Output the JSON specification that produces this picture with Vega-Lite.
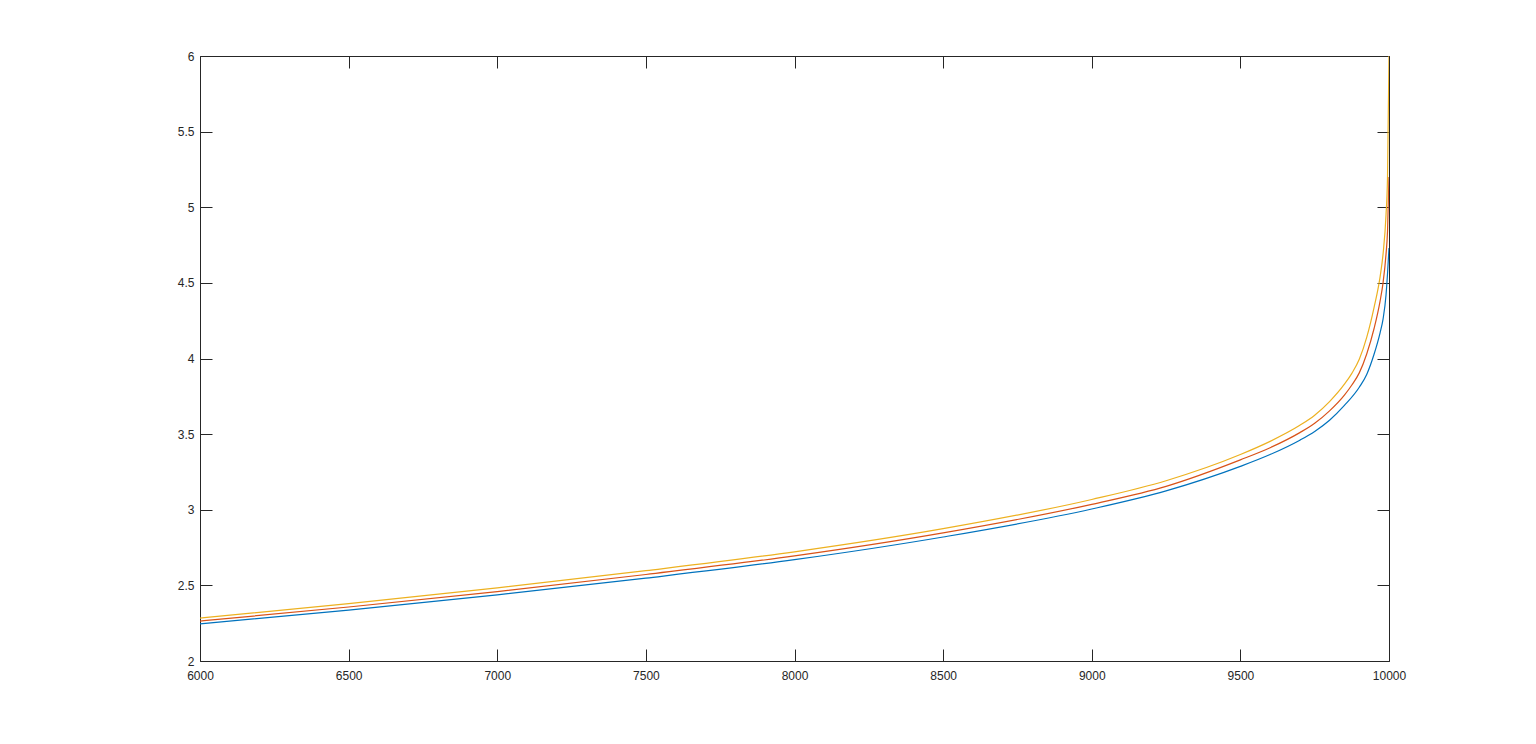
{
  "$schema": "https://vega.github.io/schema/vega-lite/v6.json",
  "autosize": {"type": "none"},
  "padding": {"left": 200, "top": 56, "right": 147, "bottom": 83},
  "width": 1189,
  "height": 605,
  "background": "white",
  "config": {
    "view": {"stroke": "#262626", "strokeWidth": 1},
    "axis": {
      "grid": false,
      "domain": false,
      "tickColor": "#262626",
      "tickWidth": 1,
      "tickSize": -12,
      "labelColor": "#262626",
      "labelFont": "Liberation Sans",
      "labelFontSize": 12,
      "labelFlush": false,
      "title": null
    }
  },
  "data": {
    "values": [
      {"x": 6000, "s": "a", "y": 2.245}, {"x": 6500, "s": "a", "y": 2.337}, {"x": 7000, "s": "a", "y": 2.437},
      {"x": 7500, "s": "a", "y": 2.548}, {"x": 8000, "s": "a", "y": 2.670}, {"x": 8500, "s": "a", "y": 2.820},
      {"x": 9000, "s": "a", "y": 3.005}, {"x": 9250, "s": "a", "y": 3.125}, {"x": 9500, "s": "a", "y": 3.287},
      {"x": 9600, "s": "a", "y": 3.365}, {"x": 9700, "s": "a", "y": 3.460}, {"x": 9750, "s": "a", "y": 3.518},
      {"x": 9800, "s": "a", "y": 3.592}, {"x": 9850, "s": "a", "y": 3.690}, {"x": 9900, "s": "a", "y": 3.810},
      {"x": 9925, "s": "a", "y": 3.895}, {"x": 9950, "s": "a", "y": 4.030}, {"x": 9970, "s": "a", "y": 4.170},
      {"x": 9980, "s": "a", "y": 4.260}, {"x": 9990, "s": "a", "y": 4.420}, {"x": 9995, "s": "a", "y": 4.560},
      {"x": 10000, "s": "a", "y": 4.730},

      {"x": 6000, "s": "b", "y": 2.264}, {"x": 6500, "s": "b", "y": 2.357}, {"x": 7000, "s": "b", "y": 2.459},
      {"x": 7500, "s": "b", "y": 2.572}, {"x": 8000, "s": "b", "y": 2.695}, {"x": 8500, "s": "b", "y": 2.847},
      {"x": 9000, "s": "b", "y": 3.036}, {"x": 9250, "s": "b", "y": 3.155}, {"x": 9500, "s": "b", "y": 3.330},
      {"x": 9600, "s": "b", "y": 3.410}, {"x": 9700, "s": "b", "y": 3.510}, {"x": 9750, "s": "b", "y": 3.572},
      {"x": 9800, "s": "b", "y": 3.654}, {"x": 9850, "s": "b", "y": 3.758}, {"x": 9875, "s": "b", "y": 3.825},
      {"x": 9900, "s": "b", "y": 3.905}, {"x": 9925, "s": "b", "y": 4.030}, {"x": 9950, "s": "b", "y": 4.200},
      {"x": 9970, "s": "b", "y": 4.380}, {"x": 9980, "s": "b", "y": 4.500}, {"x": 9990, "s": "b", "y": 4.690},
      {"x": 9995, "s": "b", "y": 4.840}, {"x": 10000, "s": "b", "y": 5.200},

      {"x": 6000, "s": "c", "y": 2.284}, {"x": 6500, "s": "c", "y": 2.379}, {"x": 7000, "s": "c", "y": 2.483},
      {"x": 7500, "s": "c", "y": 2.597}, {"x": 8000, "s": "c", "y": 2.722}, {"x": 8500, "s": "c", "y": 2.875},
      {"x": 9000, "s": "c", "y": 3.068}, {"x": 9250, "s": "c", "y": 3.192}, {"x": 9500, "s": "c", "y": 3.365},
      {"x": 9600, "s": "c", "y": 3.452}, {"x": 9700, "s": "c", "y": 3.558}, {"x": 9750, "s": "c", "y": 3.625},
      {"x": 9800, "s": "c", "y": 3.715}, {"x": 9850, "s": "c", "y": 3.830}, {"x": 9875, "s": "c", "y": 3.902},
      {"x": 9900, "s": "c", "y": 3.995}, {"x": 9925, "s": "c", "y": 4.140}, {"x": 9950, "s": "c", "y": 4.340},
      {"x": 9970, "s": "c", "y": 4.540}, {"x": 9980, "s": "c", "y": 4.690}, {"x": 9990, "s": "c", "y": 4.950},
      {"x": 9995, "s": "c", "y": 5.200}, {"x": 10000, "s": "c", "y": 6.000}
    ]
  },
  "resolve": {"axis": {"x": "independent", "y": "independent"}},
  "layer": [
    {
      "mark": {"type": "line", "strokeWidth": 1.2, "interpolate": "monotone", "clip": true},
      "encoding": {
        "x": {
          "field": "x", "type": "quantitative",
          "scale": {"domain": [6000, 10000], "nice": false, "zero": false},
          "axis": {"orient": "bottom", "values": [6000, 6500, 7000, 7500, 8000, 8500, 9000, 9500, 10000], "format": "d", "labelPadding": 21}
        },
        "y": {
          "field": "y", "type": "quantitative",
          "scale": {"domain": [2, 6], "nice": false, "zero": false},
          "axis": {"orient": "left", "values": [2, 2.5, 3, 3.5, 4, 4.5, 5, 5.5, 6], "format": "~g", "labelPadding": 18}
        },
        "color": {
          "field": "s", "type": "nominal",
          "scale": {"domain": ["a", "b", "c"], "range": ["#0072BD", "#D95319", "#EDB120"]},
          "legend": null
        }
      }
    },
    {
      "mark": {"type": "point", "opacity": 0},
      "encoding": {
        "x": {
          "field": "x", "type": "quantitative",
          "axis": {"orient": "top", "values": [6000, 6500, 7000, 7500, 8000, 8500, 9000, 9500, 10000], "labels": false}
        },
        "y": {
          "field": "y", "type": "quantitative",
          "axis": {"orient": "right", "values": [2, 2.5, 3, 3.5, 4, 4.5, 5, 5.5, 6], "labels": false}
        }
      }
    }
  ]
}
